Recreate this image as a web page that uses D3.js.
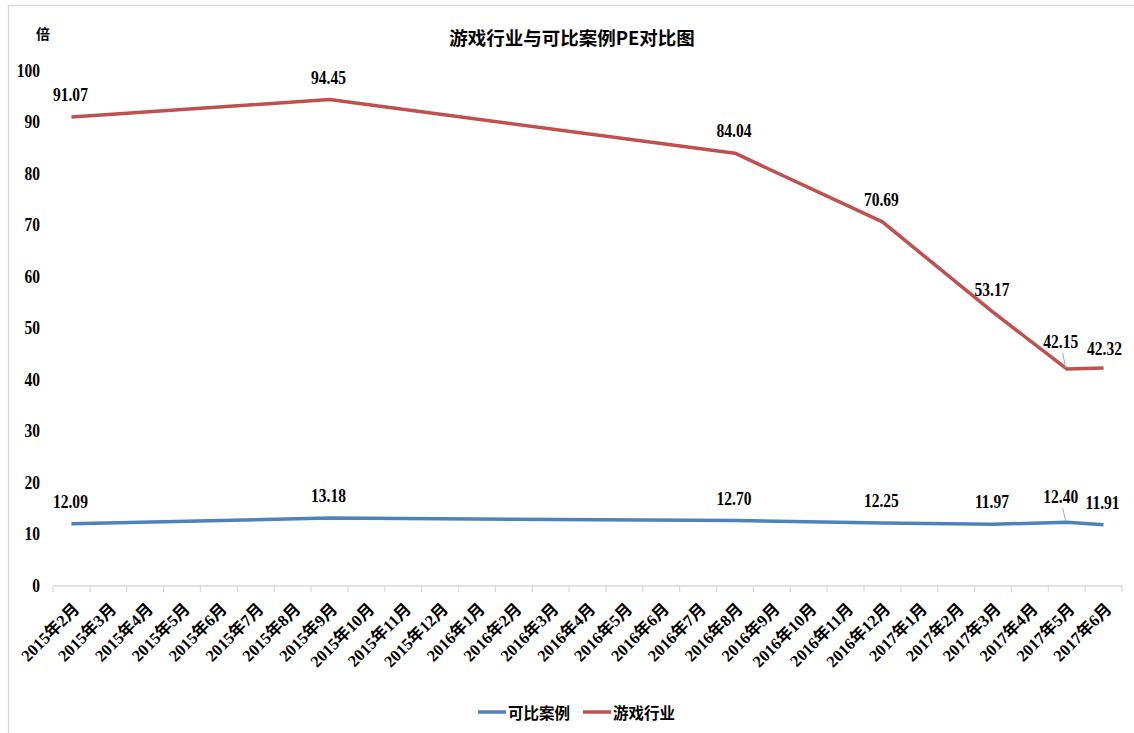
<!DOCTYPE html>
<html>
<head>
<meta charset="utf-8">
<script src="https://cdn.jsdelivr.net/npm/d3@7"></script>
<style>
  body { margin: 0; background: #fff; }
  text { font-weight: bold; fill: #000; }
</style>
</head>
<body>
<div id="chart-container"></div>
<script>
// all months on the category axis
const months = [
    "2015年2月", "2015年3月", "2015年4月", "2015年5月", "2015年6月", "2015年7月", "2015年8月",
    "2015年9月", "2015年10月", "2015年11月", "2015年12月", "2016年1月", "2016年2月", "2016年3月",
    "2016年4月", "2016年5月", "2016年6月", "2016年7月", "2016年8月", "2016年9月", "2016年10月",
    "2016年11月", "2016年12月", "2017年1月", "2017年2月", "2017年3月", "2017年4月", "2017年5月",
    "2017年6月"
];
// months that have a value
const sampleMonths = ["2015年2月", "2015年9月", "2016年8月", "2016年12月", "2017年3月", "2017年5月", "2017年6月"];
const gamePE = [91.07, 94.45, 84.04, 70.69, 53.17, 42.15, 42.32];
const casePE = [12.09, 13.18, 12.70, 12.25, 11.97, 12.40, 11.91];
const yTicks = [0, 10, 20, 30, 40, 50, 60, 70, 80, 90, 100];

const width = 1134;
const height = 733;
const SERIF = "'Liberation Serif', Tinos, 'Times New Roman', 'Noto Sans CJK SC', serif";
const CJK = "'Noto Sans CJK SC', sans-serif";

const svg = d3.select("#chart-container")
    .append("svg")
    .attr("width", width)
    .attr("height", height);

// chart frame
svg.append("rect")
    .attr("x", 8.5)
    .attr("y", 5.5)
    .attr("width", 1140)
    .attr("height", 740)
    .attr("fill", "none")
    .attr("stroke", "#d9d9d9")
    .attr("stroke-width", 1.5);

const xScale = d3.scaleBand()
    .domain(months)
    .range([53, 1122])
    .padding(0);

const yScale = d3.scaleLinear()
    .domain([0, 100])
    .range([586, 71]);

const cx = m => xScale(m) + xScale.bandwidth() / 2;

// narrow bold serif number like the original
function numText(g, x, y, str, anchor, size) {
    return g.append("text")
        .attr("transform", `translate(${x},${y}) scale(0.84,1)`)
        .attr("text-anchor", anchor)
        .attr("dominant-baseline", "central")
        .attr("font-family", SERIF)
        .attr("font-size", size)
        .text(str);
}

// title + unit
svg.append("text")
    .attr("x", 572)
    .attr("y", 37)
    .attr("text-anchor", "middle")
    .attr("dominant-baseline", "central")
    .attr("font-family", CJK)
    .attr("font-size", 18.5)
    .text("游戏行业与可比案例PE对比图");

svg.append("text")
    .attr("x", 43)
    .attr("y", 33)
    .attr("text-anchor", "middle")
    .attr("dominant-baseline", "central")
    .attr("font-family", CJK)
    .attr("font-size", 14)
    .text("倍");

// y axis (labels only)
const yAxis = svg.append("g");
yTicks.forEach(d => numText(yAxis, 40, yScale(d), d, "end", 18.5));

// x axis
const xAxis = svg.append("g")
    .attr("transform", "translate(0,586)");
xAxis.append("line")
    .attr("x1", 53).attr("x2", 1122)
    .attr("stroke", "#d9d9d9").attr("stroke-width", 1.5);
xAxis.selectAll(".tick")
    .data(months.concat(["end"]))
    .enter()
    .append("line")
    .attr("x1", (d, i) => i < months.length ? xScale(d) : 1122)
    .attr("x2", (d, i) => i < months.length ? xScale(d) : 1122)
    .attr("y1", 0).attr("y2", 6)
    .attr("stroke", "#d9d9d9").attr("stroke-width", 1.2);
xAxis.selectAll(".lbl")
    .data(months)
    .enter()
    .append("text")
    .attr("transform", d => `translate(${cx(d) + 9},${24}) rotate(-45)`)
    .attr("text-anchor", "end")
    .attr("font-family", SERIF)
    .attr("font-size", 16.5)
    .text(d => d);

// series
const series = [
    { name: "可比案例", values: casePE, color: "#4f81bd" },
    { name: "游戏行业", values: gamePE, color: "#c0504d" }
];

// label nudges for the crowded end points (index -> [dx, dy])
const nudges = {
    "可比案例": { 5: [-5, -3] },
    "游戏行业": { 5: [-5, -5], 6: [2, 3] }
};

const line = d3.line()
    .x(d => cx(d.month))
    .y(d => yScale(d.value));

series.forEach(s => {
    const pts = sampleMonths.map((m, i) => ({ month: m, value: s.values[i], i: i }));

    svg.append("path")
        .datum(pts)
        .attr("d", line)
        .attr("fill", "none")
        .attr("stroke", s.color)
        .attr("stroke-width", 3.5)
        .attr("stroke-linejoin", "round");

    const lab = svg.append("g");
    pts.forEach(p => {
        const n = (nudges[s.name] || {})[p.i] || [0, 0];
        const x = cx(p.month) + n[0] - 1;
        const y = yScale(p.value) - 22 + n[1];
        if (n[0] !== 0 && n[1] < 0) {
            // leader line
            lab.append("line")
                .attr("x1", x + 2).attr("y1", y + 11)
                .attr("x2", cx(p.month) - 1).attr("y2", yScale(p.value) - 1)
                .attr("stroke", "#a6a6a6").attr("stroke-width", 1);
        }
        numText(lab, x, y, p.value.toFixed(2), "middle", 18.5);
    });
});

// legend
const legend = svg.append("g").attr("transform", "translate(478,712)");
let lx = 0;
series.forEach(s => {
    legend.append("line")
        .attr("x1", lx).attr("x2", lx + 28)
        .attr("y1", 0).attr("y2", 0)
        .attr("stroke", s.color).attr("stroke-width", 3.5);
    legend.append("text")
        .attr("x", lx + 30)
        .attr("y", 0)
        .attr("dominant-baseline", "central")
        .attr("font-family", CJK)
        .attr("font-size", 15.5)
        .text(s.name);
    lx += 105;
});
</script>
</body>
</html>
